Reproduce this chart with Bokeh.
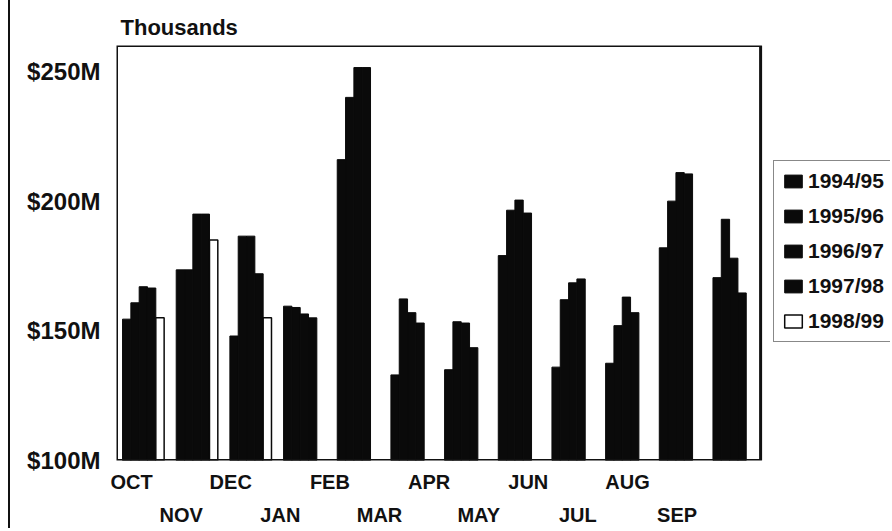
from bokeh.plotting import figure
from bokeh.models import (ColumnDataSource, Range1d, LinearAxis,
                          FixedTicker, Legend, LegendItem)
from bokeh.transform import dodge
from bokeh.embed import file_html
from bokeh.resources import INLINE

# ---- data (values in $ millions) ----
months = ["OCT", "NOV", "DEC", "JAN", "FEB", "MAR", "APR", "MAY", "JUN", "JUL", "AUG", "SEP"]
series_names = ["1994/95", "1995/96", "1996/97", "1997/98", "1998/99"]
v_9495 = [154.5, 173.5, 148.0, 159.5, 216.0, 133.0, 135.0, 179.0, 136.0, 137.5, 182.0, 170.5]
v_9596 = [160.8, 173.5, 186.5, 159.0, 240.0, 162.3, 153.5, 196.5, 162.0, 152.0, 200.0, 193.0]
v_9697 = [167.0, 195.0, 186.5, 156.5, 251.5, 157.0, 153.0, 200.4, 168.5, 163.0, 211.0, 178.0]
v_9798 = [166.5, 195.0, 172.0, 155.0, 251.5, 153.0, 143.5, 195.4, 170.0, 157.0, 210.5, 164.6]
months_9899 = ["OCT", "NOV", "DEC"]
v_9899 = [155.0, 185.0, 155.0]
y_ticks = [100, 150, 200, 250]
y_tick_labels = ["$100M", "$150M", "$200M", "$250M"]
units_label = "Thousands"

FONT = "Liberation Sans"
INK = "#111111"
BAR = "#0a0a0a"
Y0, Y1 = 100, 260
N = len(months)
X0, X1 = -0.5, N - 0.5          # the plot area proper
X_END = X1 + 2.42               # extra room on the right for the legend

pos = {m: i for i, m in enumerate(months)}

p = figure(width=880, height=528,
           x_range=Range1d(X0, X_END),
           y_range=Range1d(Y0, Y1),
           output_backend="svg", toolbar_location=None,
           min_border_left=106, min_border_right=0,
           min_border_top=45, min_border_bottom=67,
           title=units_label)
p.styles = {"border-left": "2px solid #111111", "margin-left": "8px"}

p.background_fill_color = "white"
p.border_fill_color = "white"
p.outline_line_color = None
p.xgrid.visible = False
p.ygrid.visible = False

p.title.text_font = FONT
p.title.text_font_size = "22px"
p.title.text_font_style = "bold"
p.title.text_color = INK
p.title.align = "left"
p.title.offset = 4
p.title.standoff = 12

# y axis
ya = p.yaxis[0]
ya.ticker = FixedTicker(ticks=y_ticks)
ya.major_label_overrides = dict(zip(y_ticks, y_tick_labels))
ya.axis_line_color = None
ya.major_tick_line_color = None
ya.minor_tick_line_color = None
ya.major_tick_out = 0
ya.major_label_standoff = 16
ya.major_label_text_font = FONT
ya.major_label_text_font_size = "24px"
ya.major_label_text_font_style = "bold"
ya.major_label_text_color = INK

# two staggered x axes; the labels sit a little left of the bar groups, as in the original
LABEL_START, LABEL_PITCH = -0.22, 0.924
label_x = [LABEL_START + LABEL_PITCH * i for i in range(N)]
even = list(range(0, N, 2))
odd = list(range(1, N, 2))
xa1 = p.xaxis[0]
xa1.ticker = FixedTicker(ticks=[label_x[i] for i in even])
xa1.major_label_overrides = {label_x[i]: months[i] for i in even}
xa2 = LinearAxis(ticker=FixedTicker(ticks=[label_x[i] for i in odd]),
                 major_label_overrides={label_x[i]: months[i] for i in odd})
p.add_layout(xa2, "below")
for ax, st in ((xa1, 10), (xa2, 8)):
    ax.axis_line_color = None
    ax.major_tick_line_color = None
    ax.minor_tick_line_color = None
    ax.major_tick_out = 0
    ax.major_label_standoff = st
    ax.major_label_text_font = FONT
    ax.major_label_text_font_size = "20px"
    ax.major_label_text_font_style = "bold"
    ax.major_label_text_color = INK

# bars
W = 0.155
all_series = [(months, v_9495), (months, v_9596), (months, v_9697), (months, v_9798), (months_9899, v_9899)]
items = []
for i, (name, (ms, vals)) in enumerate(zip(series_names, all_series)):
    src = ColumnDataSource(dict(x=[pos[m] for m in ms], value=vals))
    last = (i == len(series_names) - 1)
    r = p.vbar(x=dodge("x", (i - 2) * W), top="value", bottom=Y0,
               width=W, source=src,
               fill_color="white" if last else BAR,
               line_color=BAR, line_width=1.5 if last else 1)
    items.append(LegendItem(label=name, renderers=[r]))

# frame of the plot area
p.quad(left=X0, right=X1, bottom=Y0, top=Y1, fill_color=None,
       line_color=INK, line_width=3)

legend = Legend(items=items, location=(657, 118))
legend.label_text_font = FONT
legend.label_text_font_size = "21px"
legend.label_text_font_style = "bold"
legend.label_text_color = INK
legend.glyph_width = 22
legend.glyph_height = 16
legend.label_height = 24
legend.label_standoff = 4
legend.spacing = 11
legend.padding = 8
legend.margin = 0
legend.border_line_color = INK
legend.border_line_width = 1.5
legend.background_fill_color = "white"
legend.background_fill_alpha = 1
p.add_layout(legend, "center")

open("out.html", "w").write(file_html(p, INLINE))
